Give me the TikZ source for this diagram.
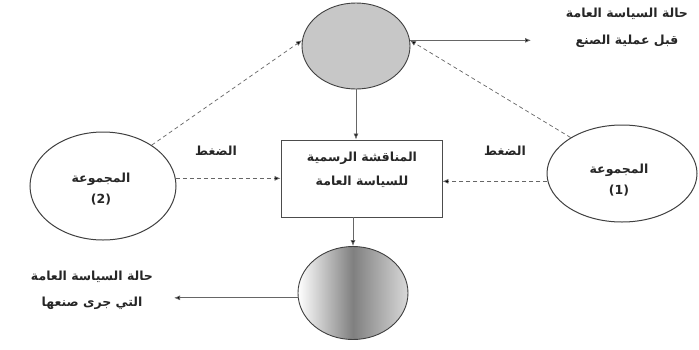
\documentclass[tikz,border=0pt]{standalone}
\usepackage{fontspec}
\newfontfamily\arabicfont[Script=Arabic]{DejaVu Sans}
\TeXXeTstate=1
\usetikzlibrary{shapes.geometric,arrows.meta}
\begin{document}
\begin{tikzpicture}[x=1pt,y=-1pt,
  oval/.style={ellipse,draw=black!75,line width=0.9pt,inner sep=0pt},
  txt/.style={font=\arabicfont\bfseries\fontsize{12.5}{24}\selectfont,align=center,inner sep=0pt,text=black!85},
  solidarrow/.style={draw=black!60,line width=0.8pt,-{Latex[length=6pt,width=5pt,fill=black]}},
  dasharrow/.style={draw=black!60,line width=0.7pt,dashed,dash pattern=on 4pt off 3pt,-{Latex[length=6pt,width=5pt,fill=black]}},
  boxstyle/.style={draw=black!70,line width=0.9pt,rectangle,inner sep=0pt}]
\useasboundingbox[fill=white] (0,0) rectangle (699,349);
% top ellipse
\node[oval,fill=black!22,minimum width=108pt,minimum height=86pt] (top) at (356,46) {};
% box
\node[boxstyle,minimum width=161pt,minimum height=77pt] (box) at (361.5,178.5) {};
\node[txt] (boxtext) at (362,170) {\beginR المناقشة الرسمية\endR\\\beginR للسياسة العامة\endR};
% bottom ellipse
\node[oval,left color=white,right color=white!85!black,middle color=black!50,minimum width=110pt,minimum height=93pt] (bot) at (353,293) {};
% groups
\node[oval,line width=1pt,fill=white,minimum width=146pt,minimum height=108pt] (g2) at (103,186) {};
\node[txt,font=\arabicfont\bfseries\fontsize{12.5}{21}\selectfont] (g2t) at (101,189) {\beginR المجموعة\endR\\(2)};
\node[oval,line width=1pt,fill=white,minimum width=150pt,minimum height=97pt] (g1) at (622,173.5) {};
\node[txt,font=\arabicfont\bfseries\fontsize{12.5}{21}\selectfont] (g1t) at (619,180) {\beginR المجموعة\endR\\(1)};
% side texts
\node[txt,font=\arabicfont\bfseries\fontsize{12.5}{27}\selectfont] (trt) at (627,28) {\beginR حالة السياسة العامة\endR\\\beginR قبل عملية الصنع\endR};
\node[txt,font=\arabicfont\bfseries\fontsize{12.5}{26}\selectfont] (blt) at (92,290) {\beginR حالة السياسة العامة\endR\\\beginR التي جرى صنعها\endR};
\node[txt] (p2) at (216,151) {\beginR الضغط\endR};
\node[txt] (p1) at (505,151) {\beginR الضغط\endR};
\coordinate (tr) at (531,38);
\coordinate (bl) at (174,298);
% connectors
\draw[solidarrow] (top.south) -- (top.south |- box.north);
\draw[solidarrow] (bot.north |- box.south) -- (bot.north);
\draw[solidarrow] (top.6) -- (top.6 -| tr);
\draw[solidarrow] (bot.185) -- (bot.185 -| bl);
\draw[dasharrow] (g2.6) -- (g2.6 -| box.west);
\draw[dasharrow] (g1.186) -- (g1.186 -| box.east);
\draw[dasharrow] (g2.40) -- (top.174);
\draw[dasharrow] (g1.145) -- (top.6);
\end{tikzpicture}
\end{document}
